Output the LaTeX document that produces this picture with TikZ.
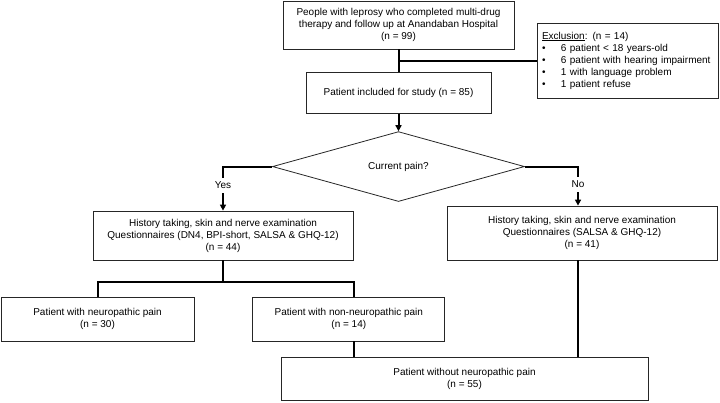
\documentclass[tikz,border=0pt]{standalone}
\usepackage{fontspec}
\setmainfont{Liberation Sans}
\usetikzlibrary{positioning, shapes.geometric, arrows.meta}
\tikzset{
	every text node part/.style= {
		align=center
	},
	box/.style= {
		rectangle,
		draw=black!85,
		line width=0.8pt,
		inner sep=0pt,
		font=\fontsize{10}{12}\selectfont
	},
	decision/.style= {
		diamond,
		draw=black!85,
		line width=0.8pt,
		inner sep=0pt,
		font=\fontsize{10}{12}\selectfont
	},
	flow/.style= {
		black,
		line width=2pt
	},
	arrowed/.style= {
		-{Triangle[length=6pt,width=6pt]}
	},
	answer/.style= {
		fill=white,
		inner sep=4pt,
		font=\fontsize{10}{12}\selectfont
	}
}

\begin{document}
\begin{tikzpicture}[x=1pt, y=-1pt]
		\useasboundingbox (0,0) rectangle (720,402);
		\node (people)[box, minimum width=231pt, minimum height=48pt] at (398.5,25) {People with leprosy who completed multi-drug\\therapy and follow up at Anandaban Hospital\\(n = 99)};
		\node (excl)[box, every text node part/.style={align=left}, text width=171pt, inner xsep=5pt, minimum height=75pt] at (627.5,60.5) {\underline{Exclusion}: (n = 14)\\
			\makebox[19pt][l]{\textbullet}6 patient < 18 years-old\\
			\makebox[19pt][l]{\textbullet}6 patient with hearing impairment\\
			\makebox[19pt][l]{\textbullet}1 with language problem\\
			\makebox[19pt][l]{\textbullet}1 patient refuse};
		\node (included)[box, minimum width=185pt, minimum height=41pt, below=23pt of people] {Patient included for study (n = 85)};
		\node (pain)[decision, minimum width=252pt, minimum height=55pt, below=17pt of included] {Current pain?};
		
		\node (yes)[box, minimum width=260pt, minimum height=49pt] at (223,235.5) {History taking, skin and nerve examination\\Questionnaires (DN4, BPI-short, SALSA \& GHQ-12)\\(n = 44)};
		\node (no)[box, minimum width=270pt, minimum height=54pt] at (582,233) {History taking, skin and nerve examination\\Questionnaires (SALSA \& GHQ-12)\\(n = 41)};
		
		\node (neuro)[box, minimum width=193pt, minimum height=44pt] at (97.5,319) {Patient with neuropathic pain\\(n = 30)};
		\node (nonneuro)[box, minimum width=192pt, minimum height=44pt, right=58pt of neuro] {Patient with non-neuropathic pain\\(n = 14)};
		\node (without)[box, minimum width=367pt, minimum height=43pt] at (464.5,378.5) {Patient without neuropathic pain\\(n = 55)};
		
		\draw[flow] (people) -- (included);
		\draw[flow] (excl.west) -- (excl.west -| people.south);
		\draw[flow, arrowed] (included) -- (pain);
		
		\draw[flow, arrowed] (pain.west) -| node[answer, pos=0.71]{Yes} (yes.north);
		\draw[flow, arrowed] (pain.east) -| node[answer, pos=0.73]{No} ([xshift=-4pt]no.north);
		
		\draw[flow] (yes.south) -- ++(0,22) coordinate (split);
		\draw[flow] (split) -| (neuro.north);
		\draw[flow] (split) -| ([xshift=5pt]nonneuro.north);
		
		\draw[flow] ([xshift=5pt]nonneuro.south) -- ([xshift=5pt]nonneuro.south |- without.north);
		\draw[flow] ([xshift=-4pt]no.south) -- ([xshift=-4pt]no.south |- without.north);
	\end{tikzpicture}
\end{document}
